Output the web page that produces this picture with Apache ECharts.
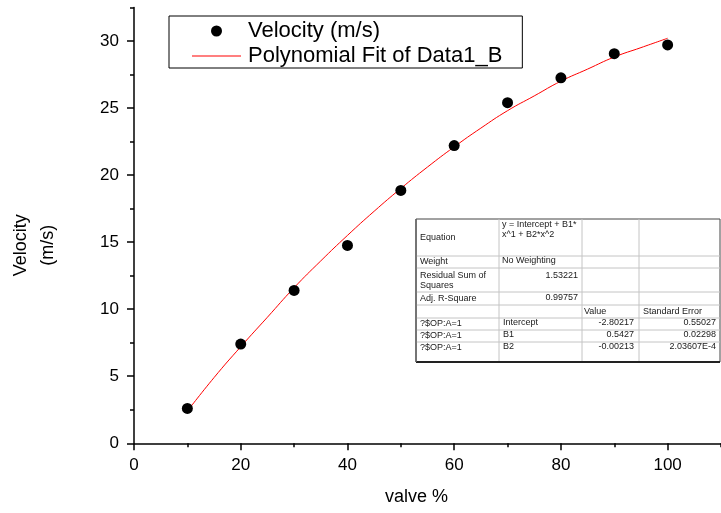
<!DOCTYPE html>
<html>
<head>
    <meta charset="utf-8">
    <title>Velocity vs valve %</title>
    <script src="https://cdn.jsdelivr.net/npm/echarts@6/dist/echarts.min.js"></script>
    <style>
        html, body { margin: 0; padding: 0; background: #fff; }
        #chart { width: 721px; height: 513px; }
    </style>
</head>
<body>
    <div id="chart"></div>
    <script>
        // measured points
        var valve = [10, 20, 30, 40, 50, 60, 70, 80, 90, 100];
        var velocity = [2.6, 7.4, 11.4, 14.75, 18.85, 22.2, 25.4, 27.25, 29.05, 29.7];

        // fitted curve
        var fitX = [10, 15, 20, 25, 30, 35, 40, 45, 50, 55, 60, 65, 70, 75, 80, 85, 90, 95, 100];
        var fitY = [2.4, 4.9, 7.2, 9.4, 11.6, 13.6, 15.5, 17.3, 19.0, 20.6, 22.1, 23.5, 24.8, 25.9, 27.0, 27.9, 28.8, 29.5, 30.2];

        // ticks
        var xTicks = [0, 20, 40, 60, 80, 100];
        var xMinorTicks = [10, 30, 50, 70, 90, 110];
        var yTicks = [0, 5, 10, 15, 20, 25, 30];
        var yMinorTicks = [2.5, 7.5, 12.5, 17.5, 22.5, 27.5, 32.5];

        // fit report table
        var tableLabels = ['Equation', 'Weight', 'Residual Sum of\nSquares', 'Adj. R-Square', '', '?$OP:A=1', '?$OP:A=1', '?$OP:A=1'];
        var tableInfo = ['y = Intercept + B1*\nx^1 + B2*x^2', 'No Weighting', '1.53221', '0.99757'];
        var paramNames = ['Intercept', 'B1', 'B2'];
        var paramValues = ['-2.80217', '0.5427', '-0.00213'];
        var paramErrors = ['0.55027', '0.02298', '2.03607E-4'];

        var FONT = 'Liberation Sans, Arial, Helvetica, sans-serif';

        var fitData = fitX.map(function (x, i) { return [x, fitY[i]]; });
        var pointData = valve.map(function (x, i) { return [x, velocity[i]]; });

        // table geometry
        var colX = [416, 499, 582, 639, 720];
        var rowLines = [256, 268, 292, 305, 318, 330, 342];
        var tTop = 219, tBottom = 362;
        var labelY = [238, 262, 281, 299, 312, 324, 336, 348];

        function txt(str, x, y, align, vAlign) {
            return {
                type: 'text', x: x, y: y, silent: true, z: 110,
                style: {
                    text: str, fill: '#1a1a1a', font: '9px ' + FONT,
                    align: align || 'left', verticalAlign: vAlign || 'middle',
                    lineHeight: 10
                }
            };
        }

        var table = [];
        table.push({
            type: 'rect', z: 100, silent: true,
            shape: { x: colX[0], y: tTop, width: colX[4] - colX[0], height: tBottom - tTop },
            style: { fill: '#fff', stroke: '#444', lineWidth: 1 }
        });
        rowLines.forEach(function (y) {
            table.push({ type: 'line', z: 101, silent: true,
                shape: { x1: colX[0], y1: y, x2: colX[4], y2: y },
                style: { stroke: '#c4c4c4', lineWidth: 1 } });
        });
        [colX[1], colX[2], colX[3]].forEach(function (x) {
            table.push({ type: 'line', z: 101, silent: true,
                shape: { x1: x, y1: tTop, x2: x, y2: tBottom },
                style: { stroke: '#c4c4c4', lineWidth: 1 } });
        });
        // darker shadow edges
        table.push({ type: 'line', z: 102, silent: true,
            shape: { x1: colX[0], y1: tBottom, x2: colX[4], y2: tBottom },
            style: { stroke: '#222', lineWidth: 2 } });
        table.push({ type: 'line', z: 102, silent: true,
            shape: { x1: colX[0], y1: tTop, x2: colX[0], y2: tBottom },
            style: { stroke: '#666', lineWidth: 1.5 } });

        tableLabels.forEach(function (s, i) {
            if (s) table.push(txt(s, colX[0] + 4, labelY[i]));
        });
        table.push(txt(tableInfo[0], colX[1] + 3, 220, 'left', 'top'));
        table.push(txt(tableInfo[1], colX[1] + 3, 261));
        table.push(txt(tableInfo[2], colX[2] - 4, 276, 'right'));
        table.push(txt(tableInfo[3], colX[2] - 4, 298, 'right'));
        table.push(txt('Value', colX[2] + 2, 312));
        table.push(txt('Standard Error', colX[3] + 4, 312));
        paramNames.forEach(function (s, i) {
            var y = labelY[5 + i] - 1;
            table.push(txt(s, colX[1] + 4, y));
            table.push(txt(paramValues[i], colX[3] - 5, y, 'right'));
            table.push(txt(paramErrors[i], colX[4] - 4, y, 'right'));
        });

        var axisLine = { show: true, onZero: false, lineStyle: { color: '#000', width: 1.5 } };

        var chart = echarts.init(document.getElementById('chart'), null, { renderer: 'canvas' });
        chart.setOption({
            animation: false,
            backgroundColor: '#fff',
            grid: { left: 132, top: 7.4, right: -9, bottom: 69.7 },
            legend: {
                orient: 'vertical',
                left: 169, top: 16,
                padding: [4, 20, 1, 23],
                itemWidth: 49, itemHeight: 11, itemGap: 3,
                borderColor: '#000', borderWidth: 1,
                backgroundColor: '#fff',
                textStyle: { fontFamily: FONT, fontSize: 22, color: '#000', padding: [0, 0, 0, 2] },
                data: [
                    { name: 'Velocity (m/s)', icon: 'circle' },
                    { name: 'Polynomial Fit of Data1_B', icon: 'path://M0,0H48V1H0Z' }
                ]
            },
            xAxis: [{
                type: 'value', min: 0, max: 110,
                name: 'valve %', nameLocation: 'middle', nameGap: 45,
                nameTextStyle: { fontFamily: FONT, fontSize: 18, color: '#000', padding: [0, 22, 0, 0] },
                axisLine: axisLine,
                axisTick: { show: true, length: 7, customValues: xTicks, lineStyle: { color: '#000', width: 1.5 } },
                axisLabel: { customValues: xTicks, margin: 14, fontFamily: FONT, fontSize: 17, color: '#000' },
                splitLine: { show: false }
            }, {
                type: 'value', min: 0, max: 110, position: 'bottom',
                axisLine: { show: false },
                axisTick: { show: true, length: 4, customValues: xMinorTicks, lineStyle: { color: '#000', width: 1.5 } },
                axisLabel: { show: false },
                splitLine: { show: false }
            }],
            yAxis: [{
                type: 'value', min: 0, max: 32.5,
                name: 'Velocity\n(m/s)', nameLocation: 'middle', nameGap: 72,
                nameTextStyle: { fontFamily: FONT, fontSize: 18, color: '#000', lineHeight: 27, padding: [0, 40, 0, 0] },
                axisLine: axisLine,
                axisTick: { show: true, length: 7, customValues: yTicks, lineStyle: { color: '#000', width: 1.5 } },
                axisLabel: { customValues: yTicks, margin: 15, fontFamily: FONT, fontSize: 17, color: '#000' },
                splitLine: { show: false }
            }, {
                type: 'value', min: 0, max: 32.5, position: 'left',
                axisLine: { show: false },
                axisTick: { show: true, length: 4, customValues: yMinorTicks, lineStyle: { color: '#000', width: 1.5 } },
                axisLabel: { show: false },
                splitLine: { show: false }
            }],
            series: [{
                name: 'Velocity (m/s)',
                type: 'scatter',
                symbol: 'circle', symbolSize: 11,
                itemStyle: { color: '#000', opacity: 1 },
                data: pointData,
                z: 3
            }, {
                name: 'Polynomial Fit of Data1_B',
                type: 'line',
                smooth: true, symbol: 'none',
                lineStyle: { color: '#ff0000', width: 1 },
                itemStyle: { color: '#ff0000' },
                data: fitData,
                z: 2
            }],
            graphic: table
        });
    </script>
</body>
</html>
